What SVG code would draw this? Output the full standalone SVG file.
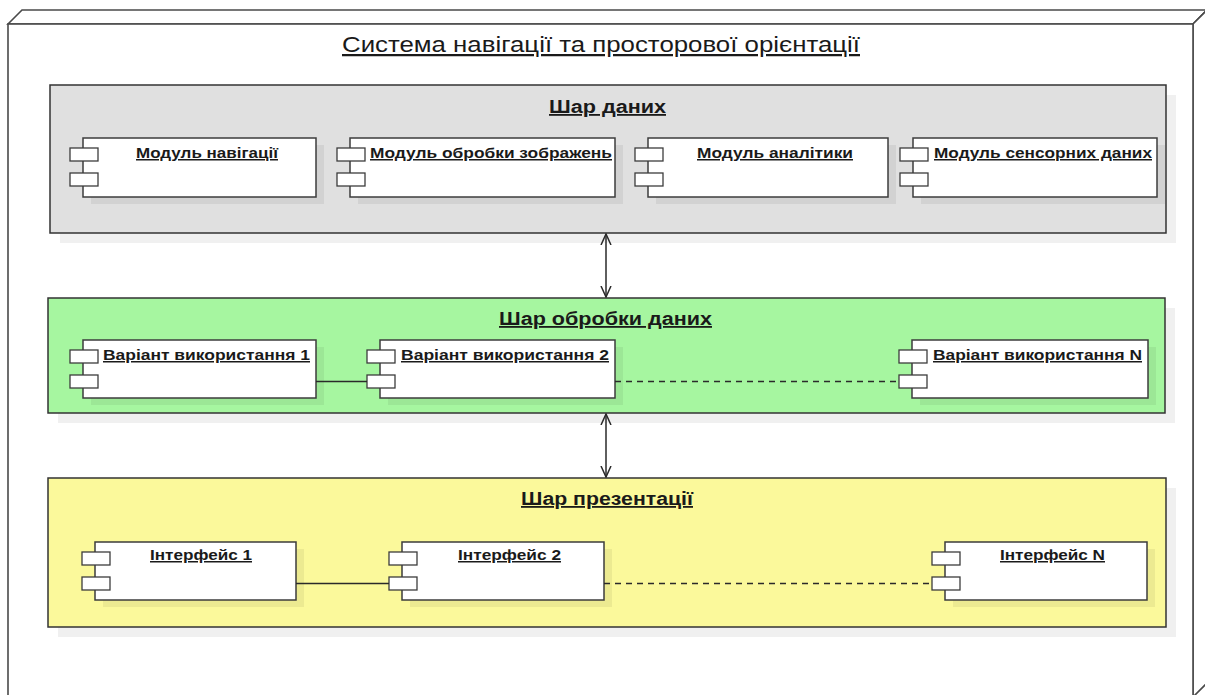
<svg xmlns="http://www.w3.org/2000/svg" width="1205" height="695" viewBox="0 0 1205 695">
<defs>
<style>
text{font-family:"Liberation Sans",Arial,sans-serif;fill:#1a1a1a;text-decoration:underline;text-anchor:middle}
.t0{font-size:22.5px}
.t1{font-size:18px;font-weight:bold}
.t2{font-size:15px;font-weight:bold}
.frame{fill:#fff;stroke:#4a4a4a;stroke-width:1.6}
.layer{stroke:#333;stroke-width:1.5}
.lshadow{fill:#000;fill-opacity:0.06}
.box{fill:#fff;stroke:#3c3c3c;stroke-width:1.5}
.bshadow{fill:#000;fill-opacity:0.06}
.port{fill:#fff;stroke:#3c3c3c;stroke-width:1.3}
.conn{stroke:#2a2a2a;stroke-width:1.5;fill:none}
.dash{stroke-dasharray:6 5}
</style>
<marker id="open" viewBox="0 0 12 12" refX="11" refY="6" markerWidth="12" markerHeight="12" markerUnits="userSpaceOnUse" orient="auto-start-reverse">
<path d="M0,1 L11,6 L0,11" fill="none" stroke="#2a2a2a" stroke-width="1.5"/>
</marker>
</defs>

<g id="system-node">
<polygon class="frame" points="8,24 22,10 1207,10 1193,24"/>
<polygon class="frame" points="1193,24 1207,10 1207,683 1193,697"/>
<rect class="frame" x="8" y="24" width="1185" height="673"/>
<text class="t0" x="601" y="52" textLength="518" lengthAdjust="spacingAndGlyphs">Система навігації та просторової орієнтації</text>
</g>

<g id="layer-data">
<rect class="lshadow" x="60" y="95" width="1116" height="148"/>
<rect class="layer" x="50" y="85" width="1116" height="148" fill="#e0e0e0"/>
<text class="t1" x="607.5" y="113" textLength="117" lengthAdjust="spacingAndGlyphs">Шар даних</text>
</g>

<g id="layer-processing">
<rect class="lshadow" x="58" y="308" width="1117" height="115"/>
<rect class="layer" x="48" y="298" width="1117" height="115" fill="#a6f6a0"/>
<text class="t1" x="605.5" y="325" textLength="213" lengthAdjust="spacingAndGlyphs">Шар обробки даних</text>
</g>

<g id="layer-presentation">
<rect class="lshadow" x="58" y="488" width="1118" height="149"/>
<rect class="layer" x="48" y="478" width="1118" height="149" fill="#fbf99b"/>
<text class="t1" x="607" y="505" textLength="172" lengthAdjust="spacingAndGlyphs">Шар презентації</text>
</g>

<g id="module-navigation">
<rect class="bshadow" x="91" y="145" width="233" height="59"/>
<rect class="box" x="83" y="138" width="233" height="59"/>
<rect class="port" x="70" y="148" width="28" height="13"/>
<rect class="port" x="70" y="173" width="28" height="13"/>
<text class="t2" x="207" y="158" textLength="142" lengthAdjust="spacingAndGlyphs">Модуль навігації</text>
</g>

<g id="module-image">
<rect class="bshadow" x="358" y="145" width="265" height="59"/>
<rect class="box" x="350" y="138" width="265" height="59"/>
<rect class="port" x="337" y="148" width="28" height="13"/>
<rect class="port" x="337" y="173" width="28" height="13"/>
<text class="t2" x="491" y="158" textLength="242" lengthAdjust="spacingAndGlyphs">Модуль обробки зображень</text>
</g>

<g id="module-analytics">
<rect class="bshadow" x="656" y="145" width="240" height="59"/>
<rect class="box" x="648" y="138" width="240" height="59"/>
<rect class="port" x="635" y="148" width="28" height="13"/>
<rect class="port" x="635" y="173" width="28" height="13"/>
<text class="t2" x="775" y="158" textLength="156" lengthAdjust="spacingAndGlyphs">Модуль аналітики</text>
</g>

<g id="module-sensors">
<rect class="bshadow" x="921" y="145" width="244" height="59"/>
<rect class="box" x="913" y="138" width="244" height="59"/>
<rect class="port" x="900" y="148" width="28" height="13"/>
<rect class="port" x="900" y="173" width="28" height="13"/>
<text class="t2" x="1043" y="158" textLength="218" lengthAdjust="spacingAndGlyphs">Модуль сенсорних даних</text>
</g>

<g id="usecase-1">
<rect class="bshadow" x="91" y="347" width="233" height="58"/>
<rect class="box" x="83" y="340" width="233" height="58"/>
<rect class="port" x="70" y="350" width="28" height="13"/>
<rect class="port" x="70" y="375" width="28" height="13"/>
<text class="t2" x="206.5" y="360" textLength="207" lengthAdjust="spacingAndGlyphs">Варіант використання 1</text>
</g>

<g id="usecase-2">
<rect class="bshadow" x="388" y="347" width="235" height="58"/>
<rect class="box" x="380" y="340" width="235" height="58"/>
<rect class="port" x="367" y="350" width="28" height="13"/>
<rect class="port" x="367" y="375" width="28" height="13"/>
<text class="t2" x="505" y="360" textLength="208" lengthAdjust="spacingAndGlyphs">Варіант використання 2</text>
</g>

<g id="usecase-n">
<rect class="bshadow" x="920" y="347" width="236" height="58"/>
<rect class="box" x="912" y="340" width="236" height="58"/>
<rect class="port" x="899" y="350" width="28" height="13"/>
<rect class="port" x="899" y="375" width="28" height="13"/>
<text class="t2" x="1037.5" y="360" textLength="209" lengthAdjust="spacingAndGlyphs">Варіант використання N</text>
</g>

<g id="interface-1">
<rect class="bshadow" x="103" y="549" width="201" height="58"/>
<rect class="box" x="95" y="542" width="201" height="58"/>
<rect class="port" x="82" y="552" width="28" height="13"/>
<rect class="port" x="82" y="577" width="28" height="13"/>
<text class="t2" x="201" y="560" textLength="102" lengthAdjust="spacingAndGlyphs">Інтерфейс 1</text>
</g>

<g id="interface-2">
<rect class="bshadow" x="410" y="549" width="202" height="58"/>
<rect class="box" x="402" y="542" width="202" height="58"/>
<rect class="port" x="389" y="552" width="28" height="13"/>
<rect class="port" x="389" y="577" width="28" height="13"/>
<text class="t2" x="509.5" y="560" textLength="103" lengthAdjust="spacingAndGlyphs">Інтерфейс 2</text>
</g>

<g id="interface-n">
<rect class="bshadow" x="953" y="549" width="202" height="58"/>
<rect class="box" x="945" y="542" width="202" height="58"/>
<rect class="port" x="932" y="552" width="28" height="13"/>
<rect class="port" x="932" y="577" width="28" height="13"/>
<text class="t2" x="1052.5" y="560" textLength="105" lengthAdjust="spacingAndGlyphs">Інтерфейс N</text>
</g>

<g id="connectors">
<line class="conn" x1="606" y1="234" x2="606" y2="297" marker-start="url(#open)" marker-end="url(#open)"/>
<line class="conn" x1="606" y1="414" x2="606" y2="477" marker-start="url(#open)" marker-end="url(#open)"/>
<line class="conn" x1="316" y1="381.5" x2="367" y2="381.5"/>
<line class="conn dash" x1="615" y1="381.5" x2="899" y2="381.5"/>
<line class="conn" x1="296" y1="583.5" x2="389" y2="583.5"/>
<line class="conn dash" x1="604" y1="583.5" x2="932" y2="583.5"/>
</g>
</svg>
